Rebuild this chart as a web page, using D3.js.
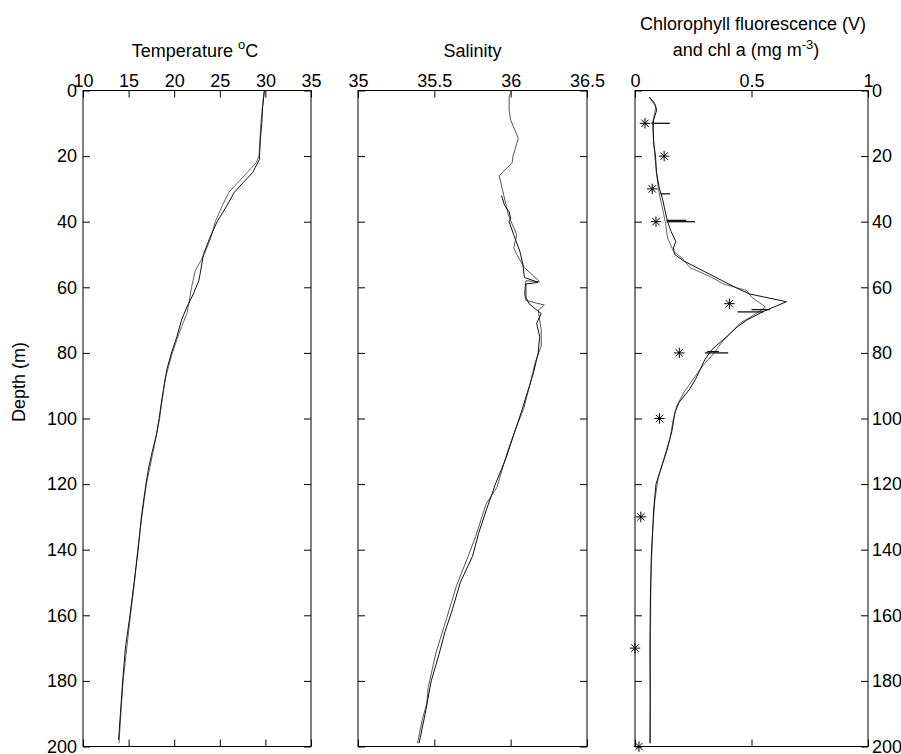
<!DOCTYPE html>
<html lang="en">
<head>
  <meta charset="utf-8">
  <title>Depth profiles</title>
  <script src="https://cdn.jsdelivr.net/npm/d3@7"></script>
  <style>
    body { margin: 0; background: #fff; }
    text { font-family: "Liberation Sans", Arial, sans-serif; fill: #000; }
  </style>
</head>
<body>
  <script>

  // depth (m) for the shared vertical axis
  var depthTicks = [0, 20, 40, 60, 80, 100, 120, 140, 160, 180, 200];

  // x tick labels of each panel
  var tempTicks = [10, 15, 20, 25, 30, 35];
  var salTicks = [35, 35.5, 36, 36.5];
  var chlTicks = [0, 0.5, 1];

  // temperature casts : [depth, degC]
  var temp1 = [[0,29.9],[5,29.7],[10,29.6],[15,29.45],[20,29.35],[21,29.35],[25,28.6],[28,27.6],[31,26.6],
    [35,25.8],[40,24.7],[45,23.9],[50,23.2],[55,22.9],[58,22.7],[62,22.1],[66,21.4],[70,20.8],[75,20.3],
    [80,19.7],[85,19.2],[90,18.9],[95,18.6],[100,18.35],[105,18.05],[110,17.6],[115,17.2],[120,16.9],
    [130,16.4],[140,16.05],[150,15.6],[160,15.15],[170,14.65],[180,14.35],[190,14.1],[198,13.9]];
  var temp2 = [[0,29.85],[10,29.5],[20,29.3],[22,29.0],[25,28.0],[28,27.0],[31,26.0],[35,25.3],[40,24.5],
    [45,24.0],[50,23.3],[55,22.3],[60,21.9],[65,21.6],[68,21.4],[72,20.8],[76,20.3],[80,19.8],[88,19.0],
    [100,18.4],[110,17.7],[120,16.95],[130,16.45],[140,16.0],[150,15.65],[160,15.2],[170,14.8],[180,14.4],
    [190,14.15],[199,13.95]];

  // salinity casts : [depth, psu]
  var sal1 = [[0,36.004],[2,35.99],[6,35.99],[9,36.0],[14.6,36.05],[20,36.015],[22,36.01],[26,35.925],
    [32,35.955],[38,35.985],[44,36.04],[48,36.02],[50,36.04],[54,36.09],[58.3,36.19],[58,36.10],[62,36.09],
    [64,36.1],[65.4,36.22],[67,36.18],[70,36.19],[73,36.2],[78,36.2],[83,36.16],[89,36.13],[97,36.085],
    [103.5,36.03],[110,35.98],[121,35.91],[126,35.84],[136,35.77],[141,35.73],[151,35.645],[161,35.58],
    [171.5,35.51],[182,35.46],[187,35.45],[192,35.42],[199,35.39]];
  var sal2 = [[32,35.94],[35,35.96],[37,35.99],[39,36.0],[40,35.99],[44,36.02],[49,36.06],[53,36.08],
    [57,36.09],[58.5,36.18],[59,36.1],[63,36.1],[65,36.12],[68,36.2],[71,36.17],[75,36.19],[80,36.18],
    [86,36.15],[92,36.11],[98,36.07],[105,36.02],[112,35.97],[120,35.90],[128,35.84],[135,35.79],
    [142,35.75],[150,35.67],[158,35.62],[165,35.57],[172,35.53],[180,35.48],[190,35.44],[199,35.40]];

  // chlorophyll fluorescence casts : [depth, V]
  var chl1 = [[2,0.062],[4,0.085],[6,0.093],[9,0.08],[12,0.078],[16,0.08],[20,0.088],[25,0.092],[30,0.105],
    [33,0.118],[37,0.13],[40,0.14],[43,0.155],[46,0.175],[48,0.165],[50,0.17],[52,0.21],[56,0.32],[60,0.43],
    [62,0.49],[64.4,0.65],[67.4,0.55],[70,0.48],[72,0.44],[75,0.394],[79,0.33],[82,0.3],[85,0.28],[88,0.26],
    [91,0.235],[95,0.19],[98,0.172],[104,0.158],[110,0.136],[113,0.122],[120,0.09],[128,0.08],[134,0.076],
    [142,0.07],[155,0.066],[170,0.064],[185,0.065],[199,0.064]];
  var chl2 = [[2,0.06],[5,0.09],[10,0.075],[20,0.085],[30,0.1],[40,0.13],[45,0.14],[49,0.165],[51,0.2],
    [54,0.236],[57,0.33],[59,0.38],[61,0.48],[63,0.5],[66,0.56],[68,0.52],[71,0.45],[74,0.41],[77,0.37],
    [80,0.34],[84,0.29],[88,0.25],[92,0.21],[96,0.18],[100,0.165],[106,0.15],[112,0.125],[118,0.1],
    [125,0.085],[135,0.075],[150,0.068],[170,0.066],[199,0.066]];

  // short horizontal spikes in the fluorescence record : [depth, from, to]
  var chlSpikes = [[10,0.07,0.15],[31.5,0.11,0.15],[40,0.136,0.258],[39.6,0.136,0.22],
    [67.5,0.44,0.55],[66.8,0.50,0.58],[80,0.30,0.40],[79.6,0.31,0.36]];

  // extracted chl a (mg m-3) : [depth, value]
  var chlA = [[10,0.043],[20,0.125],[30,0.074],[40,0.09],[65,0.405],[80,0.19],[100,0.105],
    [130,0.025],[170,0.0],[200,0.017]];

  var width = 901, height = 754;
  var plotTop = 90.5, plotBottom = 746.5;

  var svg = d3.select("body").append("svg")
    .attr("width", width)
    .attr("height", height);

  var y = d3.scaleLinear().domain([0, 200]).range([plotTop, plotBottom]);

  var panels = [
    { domain: [10, 35], left: 83, right: 311, ticks: tempTicks, fmt: d3.format("d") },
    { domain: [35, 36.5], left: 358, right: 587, ticks: salTicks, fmt: d => String(d) },
    { domain: [0, 1], left: 635, right: 868, ticks: chlTicks, fmt: d => String(d) }
  ];
  panels.forEach(p => {
    p.x = d3.scaleLinear().domain(p.domain).range([p.left, p.right]);
  });

  var line = x => d3.line().x(d => x(d[1])).y(d => y(d[0]));

  // axes and frames
  panels.forEach((p, i) => {
    var g = svg.append("g");

    g.append("g")
      .attr("transform", `translate(0,${plotTop})`)
      .call(d3.axisTop(p.x).tickValues(p.ticks).tickFormat(p.fmt)
        .tickSizeInner(-7).tickSizeOuter(0).tickPadding(4));

    g.append("g")
      .attr("transform", `translate(0,${plotBottom})`)
      .call(d3.axisBottom(p.x).tickValues(p.ticks).tickFormat("")
        .tickSizeInner(-7).tickSizeOuter(0));

    g.append("g")
      .attr("transform", `translate(${p.left},0)`)
      .call(d3.axisLeft(y).tickValues(depthTicks)
        .tickFormat(i === 0 ? d3.format("d") : "")
        .tickSizeInner(-7).tickSizeOuter(0).tickPadding(6));

    g.append("g")
      .attr("transform", `translate(${p.right},0)`)
      .call(d3.axisRight(y).tickValues(depthTicks)
        .tickFormat(i === 2 ? d3.format("d") : "")
        .tickSizeInner(-7).tickSizeOuter(0).tickPadding(4));

    g.selectAll(".domain").remove();
    g.selectAll(".tick line").attr("stroke", "#000");
    g.selectAll(".tick text").attr("font-size", 18)
      .attr("font-family", "'Liberation Sans', Arial, sans-serif");

    g.append("rect")
      .attr("x", p.left).attr("y", plotTop)
      .attr("width", p.right - p.left).attr("height", plotBottom - plotTop)
      .attr("fill", "none").attr("stroke", "#000").attr("stroke-width", 1);
  });

  // profiles
  var casts = [
    [temp2, 0, "#666"], [temp1, 0, "#111"],
    [sal1, 1, "#555"], [sal2, 1, "#111"],
    [chl2, 2, "#666"], [chl1, 2, "#111"]
  ];
  casts.forEach(c => {
    svg.append("path")
      .datum(c[0])
      .attr("d", line(panels[c[1]].x))
      .attr("fill", "none")
      .attr("stroke", c[2])
      .attr("stroke-width", 1);
  });

  var xc = panels[2].x;
  svg.append("g").selectAll("line")
    .data(chlSpikes)
    .join("line")
    .attr("x1", d => xc(d[1])).attr("x2", d => xc(d[2]))
    .attr("y1", d => y(d[0])).attr("y2", d => y(d[0]))
    .attr("stroke", "#111").attr("stroke-width", 1.3);

  // eight-armed star like the matlab '*' marker
  var star = {
    draw: function(ctx, size) {
      var r = Math.sqrt(size) / 2, s = r * 0.7071;
      ctx.moveTo(-r, 0); ctx.lineTo(r, 0);
      ctx.moveTo(0, -r); ctx.lineTo(0, r);
      ctx.moveTo(-s, -s); ctx.lineTo(s, s);
      ctx.moveTo(-s, s); ctx.lineTo(s, -s);
    }
  };
  svg.append("g").selectAll("path")
    .data(chlA)
    .join("path")
    .attr("transform", d => `translate(${xc(d[1])},${y(d[0])})`)
    .attr("d", d3.symbol().type(star).size(110))
    .attr("fill", "none").attr("stroke", "#000").attr("stroke-width", 1);

  // titles
  var t1 = svg.append("text").attr("x", 195).attr("y", 57)
    .attr("text-anchor", "middle").attr("font-size", 18);
  t1.append("tspan").text("Temperature ");
  t1.append("tspan").attr("dy", -8).attr("font-size", 13).text("o");
  t1.append("tspan").attr("dy", 8).text("C");

  svg.append("text").attr("x", 472.5).attr("y", 57)
    .attr("text-anchor", "middle").attr("font-size", 18).text("Salinity");

  svg.append("text").attr("x", 753).attr("y", 30)
    .attr("text-anchor", "middle").attr("font-size", 18)
    .text("Chlorophyll fluorescence (V)");
  var t3 = svg.append("text").attr("x", 746).attr("y", 56)
    .attr("text-anchor", "middle").attr("font-size", 18);
  t3.append("tspan").text("and chl a (mg m");
  t3.append("tspan").attr("dy", -7).attr("font-size", 13).text("-3");
  t3.append("tspan").attr("dy", 7).text(")");

  svg.append("text")
    .attr("transform", "translate(25,382) rotate(-90)")
    .attr("text-anchor", "middle").attr("font-size", 18)
    .text("Depth (m)");

  </script>
</body>
</html>
